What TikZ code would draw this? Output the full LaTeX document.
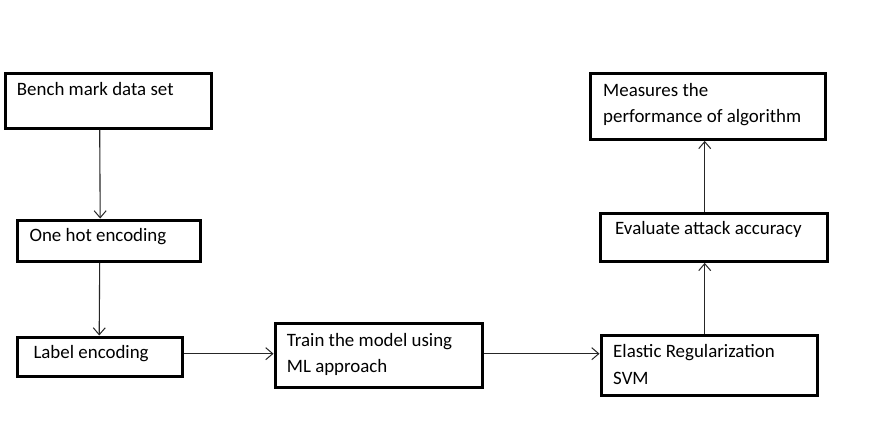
\documentclass[tikz,border=0pt]{standalone}
\usepackage{fontspec}
\setmainfont{Carlito}
\usetikzlibrary{arrows.meta}
\begin{document}
\begin{tikzpicture}[x=1pt,y=-1pt,
  box/.style={draw=black,line width=3.4pt,inner sep=0pt,minimum width=#1,anchor=north west},
  txt/.style={anchor=base west,inner sep=0pt,align=left,font=\fontsize{18.9}{26.7}\selectfont},
  arr/.style={draw=black!85,line width=1.1pt,-{Straight Barb[length=7pt,width=12pt,line width=1pt]}}]
\useasboundingbox[fill=white] (0,0) rectangle (880,444);
% boxes
\node[box=206pt,minimum height=55pt] (b1) at (3.5,71.5) {};
\node[box=183pt,minimum height=41pt] (b2) at (15.5,218.5) {};
\node[box=165pt,minimum height=39pt] (b3) at (15.5,335.5) {};
\node[box=207pt,minimum height=64pt] (b4) at (273.5,321.5) {};
\node[box=216pt,minimum height=60pt] (b5) at (599.5,333.5) {};
\node[box=227pt,minimum height=48pt] (b6) at (598.5,211.5) {};
\node[box=235pt,minimum height=66pt] (b7) at (588.5,71.5) {};
% texts (base west = baseline of last line)
\node[txt] (t1) at (16.7,95) {Bench mark data set};
\node[txt] (t2) at (29.3,241.5) {One hot encoding};
\node[txt] (t3) at (33.3,358) {Label encoding};
\node[txt] (t4) at (286.7,372.7) {Train the model using\\ML approach};
\node[txt] (t5) at (613,384.4) {Elastic Regularization\\SVM};
\node[txt] (t6) at (615,234) {Evaluate attack accuracy};
\node[txt] (t7) at (603,122.7) {Measures the\\performance of algorithm};
% connectors
\draw[arr] ([xshift=-8.5pt]b1.south) -- ([xshift=-8.5pt]b2.north);
\draw[arr] ([xshift=-9pt]b2.south) -- ([xshift=-0.5pt]b3.north);
\draw[arr] ([yshift=3pt]b3.east) -- ([yshift=1.5pt]b4.west);
\draw[arr] ([yshift=1.5pt]b4.east) -- ([yshift=11.5pt]b5.west);
\draw[arr] ([xshift=-4.5pt]b5.north) -- ([xshift=-9pt]b6.south);
\draw[arr] ([xshift=-9pt]b6.north) -- ([xshift=-3pt]b7.south);
\end{tikzpicture}
\end{document}
